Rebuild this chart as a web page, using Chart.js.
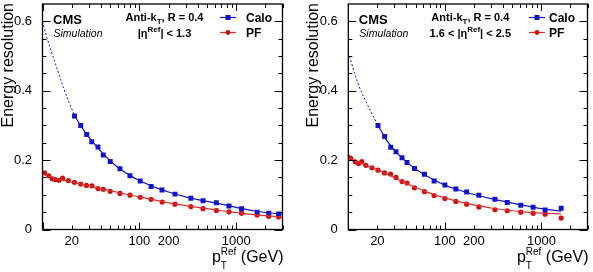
<!DOCTYPE html>
<html>
<head>
<meta charset="utf-8">
<script src="https://cdn.jsdelivr.net/npm/chart.js@4.4.1/dist/chart.umd.min.js"></script>
<style>
  body { margin: 0; background: #fff; }
  #wrap { position: relative; width: 593px; height: 272px; }
  canvas { position: absolute; top: 0; }
  #left { left: 0; }
  #right { left: 300px; }
</style>
</head>
<body>
<div id="wrap">
  <canvas id="left" width="296" height="272"></canvas>
  <canvas id="right" width="293" height="272"></canvas>
</div>
<script>
// --- axis ticks ---
const xTickVals = [10, 20, 30, 40, 50, 60, 70, 80, 90, 100, 200, 300, 400, 500, 600, 700, 800, 900, 1000, 2000, 3000];
const xMajorTicks = [10, 100, 1000];
const xLabelVals = [20, 100, 200, 1000];
const yMajorTicks = [0, 0.2, 0.4, 0.6];
const yMinorTicks = [0.05, 0.1, 0.15, 0.25, 0.3, 0.35, 0.45, 0.5, 0.55];

// --- left panel: |eta| < 1.3 ---
const caloPtA = [21.4, 24.8, 28.6, 32.2, 37.4, 42.4, 50, 63, 80, 102, 132, 171, 233, 340, 454, 623, 840, 1133, 1643, 2164, 2738];
const caloResA = [0.327, 0.300, 0.274, 0.253, 0.238, 0.215, 0.196, 0.175, 0.155, 0.140, 0.124, 0.114, 0.102, 0.090, 0.083, 0.077, 0.068, 0.060, 0.050, 0.047, 0.045];
const pfPtA = [10.5, 11.6, 12.6, 13.6, 14.8, 16.1, 18.5, 21.4, 24.8, 28.4, 32.4, 37.4, 42.4, 50, 63, 80, 102, 132, 172, 233, 340, 454, 623, 840, 1133, 1643, 2164, 2738];
const pfResA = [0.163, 0.155, 0.146, 0.144, 0.142, 0.148, 0.141, 0.136, 0.131, 0.127, 0.126, 0.118, 0.116, 0.110, 0.104, 0.099, 0.093, 0.087, 0.079, 0.073, 0.066, 0.060, 0.055, 0.051, 0.047, 0.042, 0.038, 0.036];
// fit curves
const caloExtPtA = [10, 11.2, 13.6, 16.6, 21.4];
const caloExtA = [0.600, 0.550, 0.478, 0.406, 0.328];
const caloFitPtA = [21.4, 25, 30, 35, 40, 50, 60, 80, 100, 150, 200, 300, 500, 700, 1000, 1500, 2000, 3000];
const caloFitA = [0.328, 0.298, 0.266, 0.244, 0.226, 0.198, 0.179, 0.156, 0.141, 0.120, 0.108, 0.094, 0.081, 0.073, 0.064, 0.054, 0.049, 0.044];
const pfFitPtA = [10, 12, 15, 20, 30, 40, 50, 70, 100, 150, 200, 300, 500, 700, 1000, 1500, 2000, 3000];
const pfFitA = [0.160, 0.152, 0.145, 0.137, 0.126, 0.118, 0.112, 0.103, 0.094, 0.084, 0.077, 0.069, 0.060, 0.054, 0.049, 0.043, 0.040, 0.036];

// --- right panel: 1.6 < |eta| < 2.5 ---
const caloPtB = [20.3, 23.8, 27.5, 31.2, 36, 40.6, 48.5, 61.5, 77.4, 100, 130, 168, 225, 330, 443, 611, 820, 1092, 1602];
const caloResB = [0.300, 0.268, 0.237, 0.224, 0.207, 0.193, 0.176, 0.159, 0.140, 0.128, 0.117, 0.108, 0.099, 0.087, 0.078, 0.070, 0.064, 0.056, 0.061];
const pfPtB = [10, 10.6, 11.8, 12.8, 13.8, 15.2, 17.6, 20.3, 23.7, 27.4, 31.2, 36, 40.6, 48.5, 61.5, 77.4, 100, 130, 168, 225, 330, 443, 611, 820, 1092, 1602];
const pfResB = [0.209, 0.205, 0.195, 0.190, 0.196, 0.185, 0.178, 0.171, 0.163, 0.160, 0.150, 0.138, 0.134, 0.120, 0.109, 0.098, 0.089, 0.081, 0.073, 0.065, 0.057, 0.054, 0.050, 0.047, 0.044, 0.033];
const caloExtPtB = [10, 12.8, 15.6, 20.3];
const caloExtB = [0.510, 0.416, 0.363, 0.300];
const caloFitPtB = [20.3, 25, 30, 40, 50, 70, 100, 150, 200, 300, 500, 700, 1000, 1600];
const caloFitB = [0.300, 0.257, 0.229, 0.195, 0.174, 0.149, 0.128, 0.111, 0.101, 0.089, 0.076, 0.068, 0.060, 0.053];
const pfFitPtB = [10, 12, 15, 20, 30, 40, 50, 70, 100, 150, 200, 300, 500, 700, 1000, 1600];
const pfFitB = [0.207, 0.197, 0.186, 0.172, 0.150, 0.133, 0.121, 0.105, 0.091, 0.078, 0.071, 0.062, 0.054, 0.050, 0.047, 0.045];

const CALO = '#1414c8';
const PF = '#cc1010';
const PF_LINE = '#dd3030';
const FONT = '"Liberation Sans", Arial, Helvetica, sans-serif';

const pts = (xs, ys) => xs.map((x, i) => ({ x: x, y: ys[i] }));

function drawRuns(ctx, runs, x, y, align) {
    const w = runs.map(r => { ctx.font = r.f; return ctx.measureText(r.t).width; });
    const total = runs.reduce((s, r, i) => s + (r.stay ? 0 : w[i]), 0);
    let cx = align === 'center' ? x - total / 2 : align === 'right' ? x - total : x;
    ctx.textAlign = 'left';
    ctx.textBaseline = 'alphabetic';
    runs.forEach((r, i) => {
        ctx.font = r.f;
        ctx.fillText(r.t, cx, y + (r.dy || 0));
        if (!r.stay) cx += w[i];
    });
}

// ROOT-style frame, inward ticks and all the labels inside the pad
function framePlugin(cfg) {
    return {
        id: 'rootFrame',
        afterDraw(chart) {
            const { ctx, chartArea: a, scales: { x, y } } = chart;
            ctx.save();
            ctx.strokeStyle = '#000';
            ctx.lineWidth = 1;
            ctx.beginPath();
            xTickVals.forEach(v => {
                const px = Math.round(x.getPixelForValue(v)) + 0.5;
                const len = xMajorTicks.includes(v) ? 7 : 4;
                ctx.moveTo(px, a.bottom); ctx.lineTo(px, a.bottom - len);
                ctx.moveTo(px, a.top); ctx.lineTo(px, a.top + len);
            });
            yMajorTicks.concat(yMinorTicks).forEach(v => {
                const py = Math.round(y.getPixelForValue(v)) + 0.5;
                const len = yMajorTicks.includes(v) ? 8 : 4;
                ctx.moveTo(a.left, py); ctx.lineTo(a.left + len, py);
                ctx.moveTo(a.right, py); ctx.lineTo(a.right - len, py);
            });
            ctx.stroke();
            ctx.lineWidth = 1.3;
            ctx.strokeRect(a.left, a.top, a.right - a.left, a.bottom - a.top);

            ctx.fillStyle = '#000';
            // y title
            ctx.save();
            ctx.translate(cfg.yTitleX, 3);
            ctx.rotate(-Math.PI / 2);
            ctx.font = '16px ' + FONT;
            ctx.textAlign = 'right';
            ctx.textBaseline = 'alphabetic';
            ctx.fillText('Energy resolution', 0, 0);
            ctx.restore();

            // x title
            drawRuns(ctx, [
                { t: 'p', f: '16px ' + FONT },
                { t: 'T', f: '10px ' + FONT, dy: 7, stay: true },
                { t: 'Ref', f: '10px ' + FONT, dy: -7 },
                { t: ' (GeV)', f: '16px ' + FONT }
            ], a.right + 1, 262, 'right');

            // CMS label
            ctx.font = 'bold 13px ' + FONT;
            ctx.fillText('CMS', a.left + 10.5, 24);
            ctx.font = 'italic 10.5px ' + FONT;
            ctx.fillText('Simulation', a.left + 11, 36.5);

            // jet algorithm and eta range
            const B11 = 'bold 11px ' + FONT;
            const B8 = 'bold 8px ' + FONT;
            drawRuns(ctx, [
                { t: 'Anti-k', f: B11 },
                { t: 'T', f: B8, dy: 3 },
                { t: ', R = 0.4', f: B11 }
            ], a.left + 122, 21, 'center');
            drawRuns(ctx, [
                { t: cfg.etaPre + '|\u03b7', f: B11 },
                { t: 'Ref', f: B8, dy: -5 },
                { t: '| < ' + cfg.etaMax, f: B11 }
            ], a.left + 122, 36.5, 'center');

            // legend
            const lg = cfg.legend;
            ctx.lineWidth = 1.2;
            ctx.strokeStyle = CALO;
            ctx.beginPath(); ctx.moveTo(lg.x0, 17.5); ctx.lineTo(lg.x1, 17.5); ctx.stroke();
            ctx.fillStyle = CALO;
            ctx.fillRect((lg.x0 + lg.x1) / 2 - 2.5, 15, 5, 5);
            ctx.strokeStyle = PF_LINE;
            ctx.beginPath(); ctx.moveTo(lg.x0, 32.5); ctx.lineTo(lg.x1, 32.5); ctx.stroke();
            ctx.fillStyle = PF;
            ctx.beginPath(); ctx.arc((lg.x0 + lg.x1) / 2, 32.5, 2.4, 0, Math.PI * 2); ctx.fill();
            ctx.fillStyle = '#000';
            ctx.font = 'bold 12px ' + FONT;
            ctx.fillText('Calo', lg.tx, 21.5);
            ctx.fillText('PF', lg.tx, 37);
            ctx.restore();
        }
    };
}

function makePanel(id, cfg) {
    const ctx = document.getElementById(id).getContext('2d');
    return new Chart(ctx, {
        type: 'scatter',
        data: {
            datasets: [
                {
                    data: pts(cfg.caloExtPt, cfg.caloExt), showLine: true, pointRadius: 0,
                    borderColor: CALO, borderWidth: 1, borderDash: [2, 2], cubicInterpolationMode: 'monotone'
                },
                {
                    data: pts(cfg.caloFitPt, cfg.caloFit), showLine: true, pointRadius: 0,
                    borderColor: CALO, borderWidth: 1.2, cubicInterpolationMode: 'monotone'
                },
                {
                    data: pts(cfg.pfFitPt, cfg.pfFit), showLine: true, pointRadius: 0,
                    borderColor: PF_LINE, borderWidth: 1.2, cubicInterpolationMode: 'monotone'
                },
                {
                    data: pts(cfg.caloPt, cfg.caloRes), pointStyle: 'rect', pointRadius: 3.5,
                    backgroundColor: CALO, borderColor: CALO, pointBorderWidth: 0
                },
                {
                    data: pts(cfg.pfPt, cfg.pfRes), pointStyle: 'circle', pointRadius: 2.6,
                    backgroundColor: PF, borderColor: PF, pointBorderWidth: 0
                }
            ]
        },
        options: {
            responsive: false,
            animation: false,
            layout: { padding: { top: 4, right: cfg.padRight, left: 0, bottom: 0 } },
            plugins: { legend: { display: false }, tooltip: { enabled: false } },
            scales: {
                x: {
                    type: 'logarithmic',
                    min: 10,
                    max: 3000,
                    grid: { display: false },
                    border: { display: false },
                    afterBuildTicks: s => { s.ticks = xTickVals.map(v => ({ value: v })); },
                    afterFit: s => { s.height = 42.5; s.paddingLeft = 0; s.paddingRight = 0; },
                    ticks: {
                        autoSkip: false, maxRotation: 0, padding: -4,
                        color: '#000', font: { family: FONT, size: 13 },
                        callback: v => xLabelVals.includes(v) ? String(v) : ''
                    }
                },
                y: {
                    min: 0,
                    max: 0.65,
                    grid: { display: false },
                    border: { display: false },
                    afterBuildTicks: s => { s.ticks = yMajorTicks.map(v => ({ value: v })); },
                    afterFit: s => { s.width = cfg.yAxisWidth; s.paddingTop = 0; s.paddingBottom = 0; },
                    ticks: {
                        padding: 2.5, color: '#000', font: { family: FONT, size: 13 },
                        callback: v => v === 0 ? '0' : v.toFixed(1)
                    }
                }
            }
        },
        plugins: [framePlugin(cfg)]
    });
}

makePanel('left', {
    caloPt: caloPtA, caloRes: caloResA, pfPt: pfPtA, pfRes: pfResA,
    caloExtPt: caloExtPtA, caloExt: caloExtA, caloFitPt: caloFitPtA, caloFit: caloFitA,
    pfFitPt: pfFitPtA, pfFit: pfFitA,
    yAxisWidth: 42.5, padRight: 13.5, yTitleX: 13,
    etaPre: '', etaMax: '1.3',
    legend: { x0: 220, x1: 236, tx: 246 }
});

makePanel('right', {
    caloPt: caloPtB, caloRes: caloResB, pfPt: pfPtB, pfRes: pfResB,
    caloExtPt: caloExtPtB, caloExt: caloExtB, caloFitPt: caloFitPtB, caloFit: caloFitB,
    pfFitPt: pfFitPtB, pfFit: pfFitB,
    yAxisWidth: 48.3, padRight: 5.5, yTitleX: 17.5,
    etaPre: '1.6 < ', etaMax: '2.5',
    legend: { x0: 229, x1: 245, tx: 249 }
});
</script>
</body>
</html>
